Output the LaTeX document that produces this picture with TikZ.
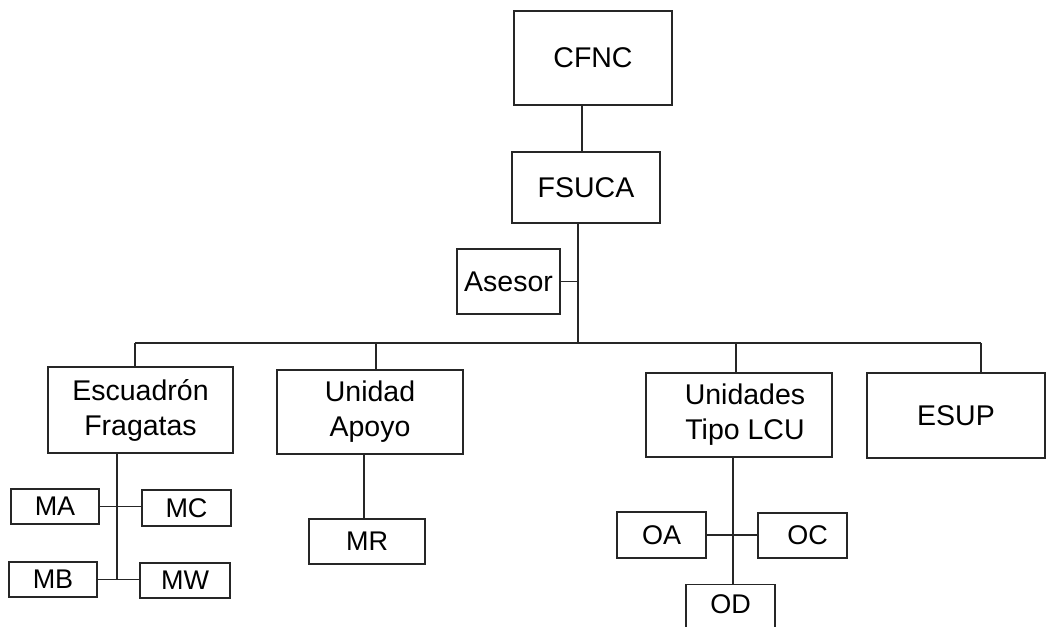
\documentclass[tikz,border=0pt]{standalone}
\usepackage{fontspec}
\setmainfont{Liberation Sans}
\begin{document}
\begin{tikzpicture}[x=1pt,y=-1pt,
  box/.style={draw=black!85,line width=1.3pt,rectangle,inner sep=0pt,align=center,
    font=\fontsize{28.5}{35}\selectfont},
  sbox/.style={box,font=\fontsize{27}{30}\selectfont},
  conn/.style={draw=black!85,line width=1.2pt}]
\useasboundingbox (0,0) rectangle (1048,626);
\clip (0,0) rectangle (1048,626);
% top level
\node[box,minimum width=158pt,minimum height=94pt] (cfnc) at (593,58) {CFNC};
\node[box,minimum width=148pt,minimum height=71pt] (fsuca) at (586,187.5) {\raisebox{-5pt}{FSUCA}};
\node[box,minimum width=103pt,minimum height=65pt] (asesor) at (508.5,281.5) {Asesor};
% second level
\node[box,minimum width=185pt,minimum height=86pt] (escu) at (140.5,410) {Escuadrón\\Fragatas};
\node[box,minimum width=186pt,minimum height=84pt] (apoyo) at (370,412) {Unidad\\Apoyo};
\node[box,minimum width=186pt,minimum height=84pt] (lcu) at (739,415) {\hspace*{12pt}Unidades\\\hspace*{12pt}Tipo LCU};
\node[box,minimum width=178pt,minimum height=85pt] (esup) at (956,415.5) {ESUP};
% third level
\node[sbox,minimum width=88pt,minimum height=35pt] (ma) at (55,506.5) {MA};
\node[sbox,minimum width=89pt,minimum height=36pt] (mc) at (186.5,508) {\raisebox{-4pt}{MC}};
\node[sbox,minimum width=88pt,minimum height=35pt] (mb) at (53,579.5) {MB};
\node[sbox,minimum width=90pt,minimum height=35pt] (mw) at (185,580.5) {\raisebox{-4pt}{MW}};
\node[sbox,minimum width=116pt,minimum height=45pt] (mr) at (367,541.5) {MR};
\node[sbox,minimum width=89pt,minimum height=46pt] (oa) at (661.5,535) {OA};
\node[sbox,minimum width=89pt,minimum height=45pt] (oc) at (802.5,535.5) {\hspace*{10pt}OC};
\node[sbox,minimum width=89pt,minimum height=52pt,anchor=north] (od) at (730.5,584) {\raisebox{14pt}{OD}};
% junction coordinates
\coordinate (busL) at (135,343);
\coordinate (busC) at (578,343);
\coordinate (busR) at (981,343);
\coordinate (escuJ) at (117,579);
% connectors
\draw[conn] (cfnc.south -| 582,0) -- (fsuca.north -| 582,0);
\draw[conn] (fsuca.south -| busC) -- (busC);
\draw[conn] (asesor.east) -- (asesor.east -| busC);
\draw[conn] (busL) -- (busR);
\draw[conn] (busL) -- (escu.north -| busL);
\draw[conn] (apoyo.north -| 376,0) -- (376,343);
\draw[conn] (lcu.north -| 736,0) -- (736,343);
\draw[conn] (esup.north -| busR) -- (busR);
\draw[conn] (escu.south -| escuJ) -- (escuJ);
\draw[conn] (ma.east) -- (mc.west |- ma.east);
\draw[conn] (mb.east) -- (mw.west |- mb.east);
\draw[conn] (apoyo.south -| 364,0) -- (mr.north -| 364,0);
\draw[conn] (lcu.south -| 733,0) -- (od.north -| 733,0);
\draw[conn] (oa.east) -- (oc.west |- oa.east);
\end{tikzpicture}
\end{document}
